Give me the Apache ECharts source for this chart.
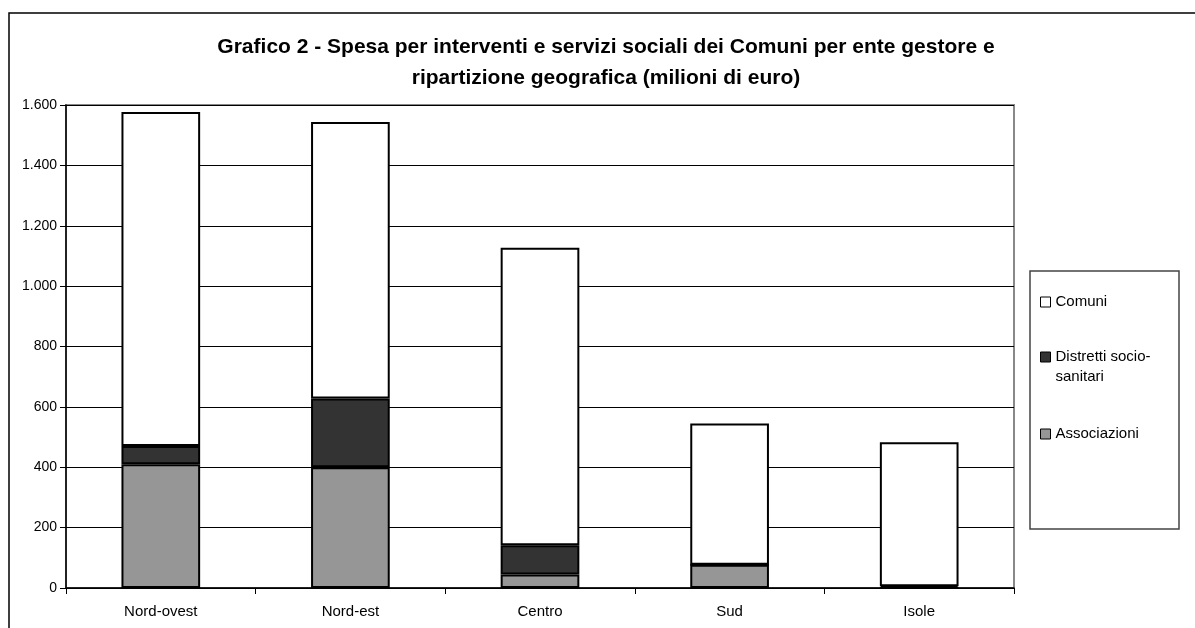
<!DOCTYPE html>
<html>
<head>
<meta charset="utf-8">
<script src="https://cdn.jsdelivr.net/npm/echarts@6/dist/echarts.min.js"></script>
<style>
html,body{margin:0;padding:0;background:#fff;}
#chart{width:1195px;height:628px;}
</style>
</head>
<body>
<div id="chart"></div>
<script>
var categories = ['Nord-ovest', 'Nord-est', 'Centro', 'Sud', 'Isole'];
var associazioni = [410, 400, 45, 77, 0];
var distretti = [60, 228, 97, 0, 6];
var comuni = [1107, 916, 985, 468, 477];
var yTickLabels = ['0', '200', '400', '600', '800', '1.000', '1.200', '1.400', '1.600'];

var chart = echarts.init(document.getElementById('chart'));
var font = 'Liberation Sans, Arial, sans-serif';

function legendFor(name, top, text) {
  return {
    data: [{ name: name, icon: 'rect' }],
    orient: 'vertical',
    left: 1040,
    top: top,
    padding: 0,
    itemWidth: 10,
    itemHeight: 10,
    selectedMode: false,
    formatter: function () { return text; },
    itemStyle: { borderColor: '#000', borderWidth: 1 },
    textStyle: { fontFamily: font, fontSize: 15, color: '#000', lineHeight: 20 }
  };
}

var barBorder = { borderColor: '#000', borderWidth: 2 };

chart.setOption({
  backgroundColor: '#fff',
  animation: false,
  title: {
    text: 'Grafico 2 - Spesa per interventi e servizi sociali dei Comuni per ente gestore e\nripartizione geografica (milioni di euro)',
    left: 601,
    textAlign: 'center',
    top: 27,
    textStyle: { fontFamily: font, fontSize: 21, fontWeight: 'bold', color: '#000', lineHeight: 31 }
  },
  graphic: [
    { type: 'rect', shape: { x: 9, y: 13, width: 1200, height: 640 }, style: { fill: 'none', stroke: '#000', lineWidth: 1.5 }, silent: true, z: -1 },
    { type: 'rect', shape: { x: 1030, y: 271, width: 149, height: 258 }, style: { fill: 'none', stroke: '#444', lineWidth: 1.5 }, silent: true }
  ],
  legend: [
    legendFor('Comuni', 292, 'Comuni'),
    legendFor('Distretti socio-sanitari', 327, '\nDistretti socio-\nsanitari'),
    legendFor('Associazioni', 424, 'Associazioni')
  ],
  grid: {
    left: 66, right: 181, top: 105, bottom: 40,
    show: true, borderColor: '#888', borderWidth: 2, backgroundColor: 'transparent'
  },
  xAxis: {
    type: 'category',
    data: categories,
    axisLine: { lineStyle: { color: '#000', width: 1.5 } },
    axisTick: { show: true, alignWithLabel: false, length: 6, lineStyle: { color: '#000' } },
    axisLabel: { fontFamily: font, fontSize: 15, color: '#000', margin: 16 }
  },
  yAxis: {
    type: 'value',
    min: 0, max: 1600, interval: 200,
    axisLine: { show: true, lineStyle: { color: '#000', width: 1.5 } },
    axisTick: { show: true, length: 6, lineStyle: { color: '#000' } },
    axisLabel: {
      fontFamily: font, fontSize: 14, color: '#000', margin: 9,
      formatter: function (v) { return yTickLabels[Math.round(v / 200)]; }
    },
    splitLine: { lineStyle: { color: '#000', width: 1 } }
  },
  series: [
    { name: 'Associazioni', type: 'bar', stack: 'tot', data: associazioni, barWidth: '41.5%',
      itemStyle: Object.assign({ color: '#969696' }, barBorder) },
    { name: 'Distretti socio-sanitari', type: 'bar', stack: 'tot', data: distretti, barWidth: '41.5%',
      itemStyle: Object.assign({ color: '#333333' }, barBorder) },
    { name: 'Comuni', type: 'bar', stack: 'tot', data: comuni, barWidth: '41.5%',
      itemStyle: Object.assign({ color: '#ffffff' }, barBorder) }
  ]
});
</script>
</body>
</html>
